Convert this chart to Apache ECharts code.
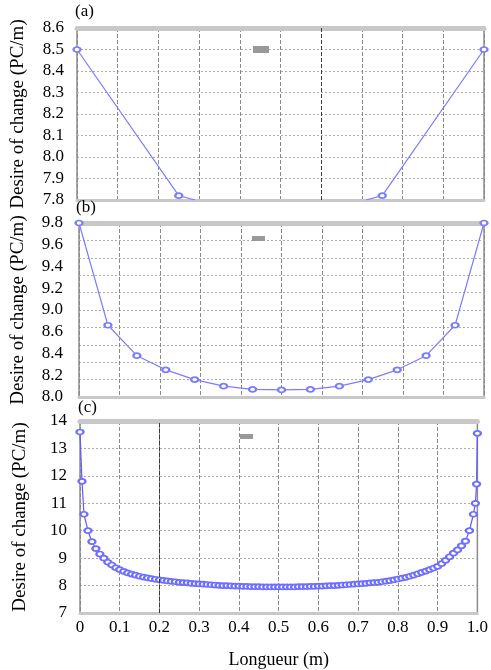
<!DOCTYPE html>
<html><head><meta charset="utf-8">
<script src="https://cdn.jsdelivr.net/npm/echarts@6/dist/echarts.min.js"></script>
<style>html,body{margin:0;padding:0;background:#fff}#c{width:491px;height:670px}</style>
</head><body><div id="c"></div>
<script>
// ---------- data ----------
const xTickLabels = ['0','0.1','0.2','0.3','0.4','0.5','0.6','0.7','0.8','0.9','1.0'];
const panelLabels = ['(a)','(b)','(c)'];
const yTitle = 'Desire of change (PC/m)';
const xTitle = 'Longueur (m)';

// panel (a) — curve leaves the plotted range below 7.8 in the middle
const xA = [0, 0.25, 0.29, 0.5, 0.71, 0.75, 1.0];
const yA = [8.5, 7.82, 7.80, '-', 7.80, 7.82, 8.5];

// panel (b) — y tick labels as printed (no 8.8)
const yTicksB = [8.0, 8.2, 8.4, 8.6, 9.0, 9.2, 9.4, 9.6, 9.8];
const xB = [0, 0.0714, 0.1429, 0.2143, 0.2857, 0.3571, 0.4286, 0.5, 0.5714, 0.6429, 0.7143, 0.7857, 0.8571, 0.9286, 1.0];
const yB = [9.8, 8.72, 8.38, 8.25, 8.16, 8.10, 8.07, 8.065, 8.07, 8.10, 8.16, 8.25, 8.38, 8.72, 9.8];

// panel (c)
const xC = [0, 0.005, 0.01, 0.02, 0.03, 0.04, 0.05, 0.06, 0.07, 0.08, 0.09,
  0.10, 0.11, 0.12, 0.13, 0.14, 0.15, 0.16, 0.17, 0.18, 0.19,
  0.20, 0.21, 0.22, 0.23, 0.24, 0.25, 0.26, 0.27, 0.28, 0.29,
  0.30, 0.31, 0.32, 0.33, 0.34, 0.35, 0.36, 0.37, 0.38, 0.39,
  0.40, 0.41, 0.42, 0.43, 0.44, 0.45, 0.46, 0.47, 0.48, 0.49,
  0.50, 0.51, 0.52, 0.53, 0.54, 0.55, 0.56, 0.57, 0.58, 0.59,
  0.60, 0.61, 0.62, 0.63, 0.64, 0.65, 0.66, 0.67, 0.68, 0.69,
  0.70, 0.71, 0.72, 0.73, 0.74, 0.75, 0.76, 0.77, 0.78, 0.79,
  0.80, 0.81, 0.82, 0.83, 0.84, 0.85, 0.86, 0.87, 0.88, 0.89,
  0.90, 0.91, 0.92, 0.93, 0.94, 0.95, 0.96, 0.97, 0.98, 0.99,
  0.995, 0.998, 1.0];
const yC = [13.6, 11.8, 10.6, 10.0, 9.6, 9.35, 9.15, 9.0, 8.85, 8.75, 8.65,
  8.58, 8.52, 8.46, 8.42, 8.38, 8.34, 8.31, 8.28, 8.25, 8.23,
  8.21, 8.19, 8.17, 8.15, 8.14, 8.12, 8.11, 8.10, 8.08, 8.07,
  8.06, 8.05, 8.04, 8.03, 8.02, 8.01, 8.00, 8.00, 7.99, 7.98,
  7.98, 7.97, 7.97, 7.96, 7.96, 7.96, 7.95, 7.95, 7.95, 7.95,
  7.95, 7.95, 7.95, 7.95, 7.95, 7.96, 7.96, 7.96, 7.97, 7.97,
  7.98, 7.98, 7.99, 8.00, 8.00, 8.01, 8.02, 8.03, 8.04, 8.05,
  8.06, 8.07, 8.08, 8.10, 8.11, 8.12, 8.14, 8.16, 8.18, 8.21,
  8.24, 8.27, 8.30, 8.34, 8.38, 8.43, 8.48, 8.53, 8.58, 8.64,
  8.70, 8.80, 8.92, 9.05, 9.18, 9.30, 9.45, 9.62, 10.0, 10.6,
  11.0, 11.7, 13.55];

// darker vertical grid line in each panel (as in the source figure)
const darkLineA = 0.6;
const darkLineC = 0.2;

// ---------- helpers ----------
const FONT = '"Liberation Serif","Times New Roman",serif';
const BLUE = '#7c7cff';
function tickIndexB(v) {
  for (let i = 0; i < yTicksB.length - 1; i++) {
    if (v <= yTicksB[i + 1]) return i + (v - yTicksB[i]) / (yTicksB[i + 1] - yTicksB[i]);
  }
  return yTicksB.length - 1;
}
const pairs = (xs, ys, f) => xs.map((x, i) => [x, ys[i] === '-' ? '-' : (f ? f(ys[i]) : ys[i])]);
const darkMark = x => ({ silent: true, symbol: 'none', label: { show: false },
  lineStyle: { color: '#3a3a3a', width: 1, type: [4, 2] }, data: [{ xAxis: x }] });

const grids = [
  { left: 77, right: 7, top: 28, height: 172 },
  { left: 79, right: 7, top: 223, height: 174 },
  { left: 80, right: 6, top: 421, height: 195 }
].map(g => Object.assign(g, { show: true, borderColor: '#8c8c8c', borderWidth: 1.5, backgroundColor: '#fff' }));

function xAxes(gi, showLabels) {
  return [{
    type: 'value', gridIndex: gi, min: 0, max: 1, interval: 0.1,
    axisLine: { show: true, onZero: false, lineStyle: { color: '#c8c8c8', width: 3 } },
    axisTick: { show: false },
    axisLabel: { show: showLabels, formatter: v => xTickLabels[Math.round(v * 10)], fontFamily: FONT, fontSize: 17, color: '#000', margin: 6 },
    splitLine: { show: true, lineStyle: { color: '#8a8a8a', width: 1, type: [4, 2] } },
    name: showLabels ? xTitle : '', nameLocation: 'middle', nameGap: 38,
    nameTextStyle: { fontFamily: FONT, fontSize: 18, color: '#000' }
  }, {
    type: 'value', gridIndex: gi, min: 0, max: 1, position: 'top',
    axisLine: { show: true, onZero: false, lineStyle: { color: '#c8c8c8', width: 5 } },
    axisTick: { show: false }, axisLabel: { show: false }, splitLine: { show: false }
  }];
}
const hLine = { show: true, lineStyle: { color: '#ababab', width: 1, type: [2, 2] } };
const yName = (gap) => ({ name: yTitle, nameLocation: 'middle', nameRotate: 90, nameGap: gap,
  nameTextStyle: { fontFamily: FONT, fontSize: 19, color: '#000' } });
const yLab = (m, f) => ({ formatter: f, fontFamily: FONT, fontSize: 17, color: '#000', margin: m });

const option = {
  animation: false,
  title: panelLabels.map((t, i) => ({ text: t, left: [75, 76, 78][i], top: [3, 199, 399][i], padding: 0,
    textStyle: { fontFamily: FONT, fontSize: 17, fontWeight: 'normal', color: '#000' } })),
  legend: [
    { name: 'a', left: 253, top: 46, w: 16, h: 7 },
    { name: 'b', left: 252, top: 236, w: 13, h: 5 },
    { name: 'c', left: 240, top: 434, w: 13, h: 5 }
  ].map(l => ({ left: l.left, top: l.top, padding: 0, itemWidth: l.w, itemHeight: l.h, icon: 'rect',
    selectedMode: false, formatter: () => '', itemStyle: { color: '#999' },
    data: [{ name: l.name, icon: 'rect', itemStyle: { color: '#999' } }] })),
  grid: grids,
  xAxis: [].concat(xAxes(0, false), xAxes(1, false), xAxes(2, true)),
  yAxis: [
    Object.assign({ type: 'value', gridIndex: 0, min: 7.8, max: 8.6, interval: 0.1,
      axisLine: { show: false }, axisTick: { show: false },
      axisLabel: yLab(13, v => v.toFixed(1)), splitLine: hLine }, yName(49)),
    Object.assign({ type: 'value', gridIndex: 1, min: 0, max: 8, interval: 1,
      axisLine: { show: false }, axisTick: { show: false },
      axisLabel: yLab(16, v => yTicksB[Math.round(v)].toFixed(1)), splitLine: { show: false } }, yName(51)),
    { type: 'value', gridIndex: 1, min: 0, max: 10, interval: 1, position: 'right',
      axisLine: { show: false }, axisTick: { show: false }, axisLabel: { show: false }, splitLine: hLine },
    Object.assign({ type: 'value', gridIndex: 2, min: 7, max: 14, interval: 1,
      axisLine: { show: false }, axisTick: { show: false },
      axisLabel: yLab(13, v => String(v)), splitLine: hLine }, yName(50))
  ],
  series: [
    { name: 'a', type: 'line', xAxisIndex: 0, yAxisIndex: 0, data: pairs(xA, yA),
      symbol: v => (v[1] > 7.8 ? 'emptyCircle' : 'none'), symbolSize: [7, 5],
      lineStyle: { color: BLUE, width: 1.2 }, itemStyle: { color: BLUE, borderWidth: 1 },
      markLine: darkMark(darkLineA), z: 3 },
    { name: 'b', type: 'line', xAxisIndex: 2, yAxisIndex: 1, data: pairs(xB, yB, tickIndexB),
      symbol: 'emptyCircle', symbolSize: [7, 5],
      lineStyle: { color: BLUE, width: 1.2 }, itemStyle: { color: BLUE, borderWidth: 1 } },
    { name: 'c', type: 'line', xAxisIndex: 4, yAxisIndex: 3, data: pairs(xC, yC),
      symbol: 'emptyCircle', symbolSize: [7, 5],
      lineStyle: { color: '#5a5aff', width: 1.2 }, itemStyle: { color: '#6e6eff', borderWidth: 1 },
      markLine: darkMark(darkLineC), z: 3 }
  ]
};
const chart = echarts.init(document.getElementById('c'));
chart.setOption(option);
</script></body></html>
